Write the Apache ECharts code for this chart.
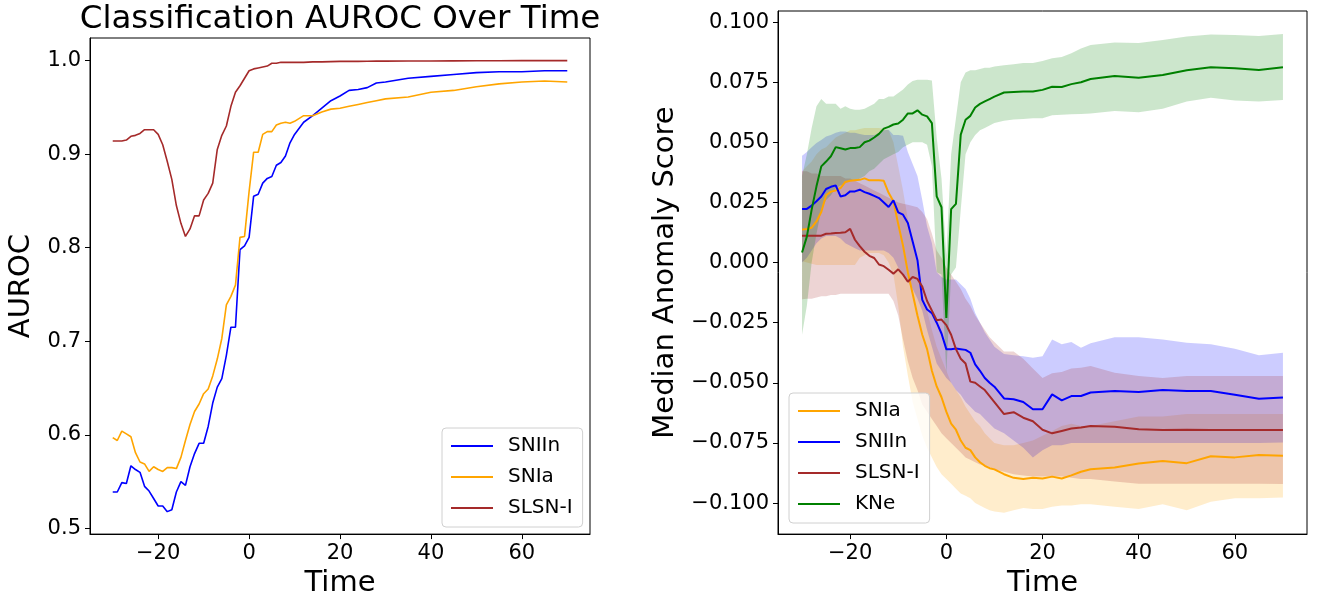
<!DOCTYPE html>
<html>
<head>
<meta charset="utf-8">
<title>AUROC and anomaly score over time</title>
<script src="https://cdn.jsdelivr.net/npm/echarts@6/dist/echarts.min.js"></script>
<style>
  html, body { margin: 0; padding: 0; background: #fff; }
  #chart { width: 1319px; height: 603px; }
</style>
</head>
<body>
<div id="chart"></div>
<script>
// time grid shared by both panels
var times = [-30,-29,-28,-27,-26,-25,-24,-23,-22,-21,
             -20,-19,-18,-17,-16,-15,-14,-13,-12,-11,
             -10,-9,-8,-7,-6,-5,-4,-3,-2,-1,
             0,1,2,3,4,5,6,7,8,9,10,
             12,14,16,18,20,22,24,26,28,30,
             35,40,45,50,55,60,65,70];

// left panel: AUROC
var aurocSNIIn = [0.539,0.539,0.549,0.548,0.567,0.563,0.560,0.545,0.540,0.532,
                  0.524,0.524,0.518,0.520,0.539,0.550,0.546,0.566,0.580,0.591,
                  0.591,0.609,0.634,0.651,0.660,0.685,0.715,0.715,0.798,0.802,
                  0.811,0.855,0.857,0.869,0.874,0.876,0.888,0.891,0.898,0.912,0.921,
                  0.934,0.941,0.949,0.957,0.962,0.968,0.969,0.971,0.976,0.977,
                  0.981,0.983,0.985,0.987,0.988,0.988,0.989,0.989];
var aurocSNIa = [0.597,0.594,0.604,0.601,0.598,0.581,0.571,0.569,0.561,0.566,
                 0.563,0.561,0.565,0.565,0.564,0.576,0.594,0.611,0.625,0.633,
                 0.644,0.649,0.663,0.681,0.703,0.739,0.748,0.760,0.811,0.812,
                 0.860,0.902,0.902,0.921,0.924,0.924,0.931,0.933,0.934,0.933,0.935,
                 0.941,0.941,0.945,0.948,0.949,0.951,0.953,0.955,0.957,0.959,
                 0.961,0.966,0.968,0.972,0.975,0.977,0.978,0.977];
var aurocSLSN = [0.914,0.914,0.914,0.915,0.919,0.920,0.922,0.926,0.926,0.926,
                 0.921,0.910,0.892,0.873,0.845,0.826,0.812,0.820,0.834,0.834,
                 0.851,0.858,0.869,0.905,0.920,0.930,0.951,0.966,0.973,0.981,
                 0.989,0.991,0.992,0.993,0.994,0.997,0.997,0.998,0.998,0.998,0.998,
                 0.998,0.9985,0.9985,0.9988,0.999,0.999,0.999,0.9992,0.9993,0.9993,
                 0.9995,0.9995,0.9996,0.9997,0.9997,0.9998,0.9998,0.9998];

// right panel: median anomaly score with upper / lower bands
var snIaMed = [0.0137,0.0140,0.0145,0.0171,0.0210,0.0280,0.0295,0.0300,0.0310,0.0335,
               0.0340,0.0342,0.0344,0.0350,0.0342,0.0342,0.0342,0.0340,0.0290,0.0255,
               0.0160,0.0070,-0.0040,-0.0130,-0.0220,-0.0300,-0.0360,-0.0450,-0.0515,-0.0560,
               -0.0620,-0.0670,-0.0695,-0.0740,-0.0770,-0.0780,-0.0810,-0.0830,-0.0845,-0.0855,-0.0860,
               -0.0880,-0.0895,-0.0900,-0.0895,-0.0898,-0.0890,-0.0898,-0.0885,-0.0870,-0.0859,
               -0.0852,-0.0835,-0.0825,-0.0834,-0.0805,-0.0810,-0.0800,-0.0803];
var snIaHi = [0.038,0.040,0.042,0.045,0.047,0.048,0.050,0.052,0.053,0.054,
              0.055,0.055,0.0555,0.056,0.056,0.056,0.056,0.0555,0.055,0.050,
              0.040,0.030,0.018,0.008,-0.002,-0.012,-0.020,-0.028,-0.035,-0.040,
              -0.045,-0.050,-0.053,-0.056,-0.060,-0.063,-0.066,-0.068,-0.071,-0.073,-0.075,
              -0.076,-0.076,-0.075,-0.074,-0.072,-0.070,-0.068,-0.067,-0.068,-0.068,
              -0.066,-0.064,-0.064,-0.063,-0.063,-0.063,-0.063,-0.063];
var snIaLo = [0.0005,0.000,-0.0005,-0.001,-0.001,-0.001,-0.001,-0.001,-0.001,-0.001,
              -0.001,-0.001,0.002,0.003,0.004,0.004,0.004,0.003,0.000,-0.005,
              -0.018,-0.035,-0.047,-0.058,-0.065,-0.072,-0.077,-0.081,-0.085,-0.088,
              -0.090,-0.092,-0.094,-0.096,-0.097,-0.098,-0.100,-0.101,-0.102,-0.103,-0.1035,
              -0.104,-0.103,-0.102,-0.1025,-0.1025,-0.1015,-0.101,-0.101,-0.1005,-0.1005,
              -0.1015,-0.1025,-0.1005,-0.103,-0.0995,-0.098,-0.098,-0.0977];

var snIInMed = [0.0223,0.0223,0.0237,0.0255,0.0275,0.0306,0.0315,0.0321,0.0275,0.0280,
                0.0296,0.0296,0.0303,0.0293,0.0286,0.0277,0.0268,0.0250,0.0231,0.0259,
                0.0209,0.0199,0.0165,0.0088,0.0010,-0.0155,-0.0195,-0.0210,-0.0250,-0.0295,
                -0.0360,-0.0360,-0.0357,-0.0360,-0.0363,-0.0375,-0.0423,-0.0450,-0.0480,-0.0500,-0.0516,
                -0.0565,-0.0568,-0.0580,-0.0610,-0.0610,-0.0548,-0.0573,-0.0555,-0.0555,-0.0540,
                -0.0534,-0.0538,-0.0530,-0.0534,-0.0534,-0.0550,-0.0566,-0.0561];
var snIInHi = [0.0444,0.046,0.048,0.0497,0.051,0.0524,0.053,0.054,0.0545,0.0545,
               0.054,0.054,0.0535,0.053,0.053,0.053,0.054,0.055,0.0552,0.053,
               0.053,0.0527,0.046,0.041,0.036,0.026,0.015,0.008,-0.004,-0.006,
               -0.007,-0.007,-0.007,-0.009,-0.011,-0.015,-0.021,-0.025,-0.029,-0.032,-0.035,
               -0.038,-0.0385,-0.039,-0.0396,-0.039,-0.032,-0.034,-0.033,-0.0354,-0.0335,
               -0.031,-0.031,-0.032,-0.0333,-0.034,-0.0358,-0.0385,-0.0375];
var snIInLo = [0.000,0.002,0.005,0.008,0.010,0.011,0.011,0.011,0.010,0.008,
               0.007,0.006,0.005,0.005,0.005,0.005,0.005,0.005,0.004,0.002,
               -0.002,-0.005,-0.008,-0.011,-0.015,-0.020,-0.028,-0.035,-0.042,-0.045,
               -0.048,-0.050,-0.053,-0.055,-0.058,-0.060,-0.062,-0.063,-0.065,-0.067,-0.069,
               -0.071,-0.074,-0.077,-0.081,-0.078,-0.076,-0.076,-0.075,-0.075,-0.075,
               -0.075,-0.075,-0.075,-0.075,-0.075,-0.075,-0.075,-0.0748];

var slsnMed = [0.0112,0.0112,0.0112,0.0112,0.0112,0.0120,0.0121,0.0123,0.0124,0.0126,
               0.0140,0.0095,0.0068,0.0045,0.0028,0.0019,-0.0008,-0.0015,-0.0030,-0.0046,
               -0.0028,-0.0050,-0.0080,-0.0060,-0.0068,-0.0100,-0.0160,-0.0200,-0.0240,-0.0237,
               -0.0260,-0.0300,-0.0360,-0.0400,-0.0420,-0.0495,-0.0500,-0.0515,-0.0530,-0.0555,-0.0580,
               -0.0630,-0.0622,-0.0645,-0.0660,-0.0695,-0.0710,-0.0700,-0.0690,-0.0686,-0.0680,
               -0.0683,-0.0693,-0.0696,-0.0695,-0.0696,-0.0696,-0.0696,-0.0696];
var slsnHi = [0.038,0.038,0.037,0.037,0.036,0.036,0.036,0.036,0.036,0.035,
              0.035,0.034,0.033,0.032,0.031,0.030,0.029,0.028,0.027,0.026,
              0.025,0.0245,0.024,0.0235,0.023,0.021,0.018,0.012,0.005,0.002,
              -0.002,-0.005,-0.008,-0.011,-0.015,-0.018,-0.022,-0.025,-0.028,-0.031,-0.033,
              -0.037,-0.037,-0.040,-0.044,-0.048,-0.046,-0.0455,-0.044,-0.0437,-0.043,
              -0.0458,-0.0472,-0.048,-0.0472,-0.0472,-0.0472,-0.0472,-0.0472];
var slsnLo = [-0.0153,-0.015,-0.015,-0.0145,-0.014,-0.014,-0.0135,-0.0135,-0.013,-0.013,
              -0.013,-0.013,-0.013,-0.013,-0.013,-0.013,-0.013,-0.013,-0.013,-0.016,
              -0.022,-0.032,-0.041,-0.048,-0.053,-0.059,-0.062,-0.065,-0.068,-0.071,
              -0.073,-0.075,-0.077,-0.079,-0.081,-0.082,-0.083,-0.084,-0.0845,-0.085,-0.086,
              -0.087,-0.088,-0.0885,-0.089,-0.089,-0.089,-0.089,-0.0895,-0.090,-0.090,
              -0.091,-0.092,-0.092,-0.092,-0.092,-0.092,-0.092,-0.0921];

var kneMed = [0.0042,0.0108,0.0220,0.0317,0.0400,0.0420,0.0442,0.0480,0.0475,0.0470,
              0.0476,0.0476,0.0480,0.0500,0.0507,0.0520,0.0535,0.0557,0.0564,0.0574,
              0.0578,0.0594,0.0620,0.0620,0.0633,0.0615,0.0608,0.0580,0.0275,0.0230,
              -0.0230,0.0222,0.0244,0.0532,0.0594,0.0610,0.0645,0.0660,0.0670,0.0680,0.0690,
              0.0707,0.0709,0.0711,0.0711,0.0718,0.0731,0.0730,0.0742,0.0750,0.0763,
              0.0776,0.0768,0.0780,0.0800,0.0812,0.0808,0.0801,0.0812];
var kneHi = [0.036,0.045,0.056,0.065,0.068,0.066,0.066,0.066,0.064,0.065,
             0.064,0.0635,0.0635,0.064,0.065,0.066,0.068,0.068,0.069,0.069,
             0.0705,0.072,0.074,0.0755,0.076,0.076,0.076,0.0757,0.052,0.035,
             0.003,0.045,0.060,0.075,0.079,0.080,0.080,0.0805,0.081,0.081,0.0815,
             0.082,0.0825,0.083,0.083,0.0838,0.085,0.0855,0.087,0.089,0.0905,
             0.0915,0.0913,0.0925,0.094,0.0948,0.0946,0.0942,0.095];
var kneLo = [-0.030,-0.018,0.000,0.012,0.022,0.026,0.028,0.031,0.032,0.033,
             0.034,0.034,0.035,0.036,0.038,0.039,0.041,0.043,0.044,0.045,
             0.046,0.048,0.049,0.050,0.050,0.050,0.049,0.040,-0.004,-0.005,
             -0.046,-0.005,-0.002,0.022,0.045,0.050,0.053,0.055,0.056,0.057,0.058,
             0.059,0.0595,0.0597,0.060,0.060,0.0613,0.0615,0.0617,0.0618,0.062,
             0.063,0.0625,0.064,0.067,0.0685,0.0674,0.067,0.0676];

var xTicks = [-20, 0, 20, 40, 60];
var aurocTicks = [0.5, 0.6, 0.7, 0.8, 0.9, 1.0];
var scoreTicks = [-0.1, -0.075, -0.05, -0.025, 0, 0.025, 0.05, 0.075, 0.1];

var FONT = 'DejaVu Sans';
var C_BLUE = '#0000ff', C_ORANGE = '#ffa500', C_BROWN = '#a52a2a', C_GREEN = '#008000';

function minus(s) { return String(s).replace('-', '\u2212'); }

function pairs(ys) {
  return times.map(function (t, i) { return [t, ys[i]]; });
}

function line(name, ys, color, width, ax) {
  return {
    type: 'line', name: name, data: pairs(ys),
    xAxisIndex: ax, yAxisIndex: ax,
    symbol: 'none', showSymbol: false,
    lineStyle: { color: color, width: width },
    itemStyle: { color: color },
    silent: true, z: 3
  };
}

function band(hi, lo, fill) {
  return {
    type: 'custom', xAxisIndex: 1, yAxisIndex: 1,
    data: [[times[0], hi[0]]], clip: true, silent: true, z: 1,
    renderItem: function (params, api) {
      var pts = [];
      for (var i = 0; i < times.length; i++) pts.push(api.coord([times[i], hi[i]]));
      for (var j = times.length - 1; j >= 0; j--) pts.push(api.coord([times[j], lo[j]]));
      return { type: 'polygon', shape: { points: pts }, style: { fill: fill } };
    }
  };
}

var axisLine = { show: true, onZero: false, lineStyle: { color: '#000', width: 1 } };

function xAxis(idx) {
  return {
    type: 'value', gridIndex: idx, min: -35, max: 75, position: 'bottom',
    name: 'Time', nameLocation: 'middle', nameGap: 34,
    nameTextStyle: { fontSize: 29, fontFamily: FONT, color: '#000' },
    axisLine: axisLine,
    axisTick: { show: true, length: 5, customValues: xTicks, lineStyle: { color: '#000' } },
    axisLabel: { customValues: xTicks, margin: 9, fontSize: 21, fontFamily: FONT, color: '#000',
                 formatter: function (v) { return minus(v); } },
    splitLine: { show: false }
  };
}

function legend(names, left, top) {
  return {
    data: names, left: left, top: top, orient: 'vertical',
    selectedMode: false, icon: 'rect',
    itemWidth: 42, itemHeight: 2, itemGap: 11,
    padding: [8, 10, 9, 9],
    backgroundColor: 'rgba(255,255,255,0.8)',
    borderColor: '#d0d0d0', borderWidth: 1, borderRadius: 4,
    textStyle: { fontSize: 20, fontFamily: FONT, color: '#000', lineHeight: 20, padding: [0, 0, 0, 10] }
  };
}

var chart = echarts.init(document.getElementById('chart'), null, { renderer: 'canvas' });

chart.setOption({
  animation: false,
  backgroundColor: '#fff',
  title: {
    text: 'Classification AUROC Over Time',
    left: 340, top: 3, textAlign: 'center', padding: 0,
    textStyle: { fontSize: 32.5, fontWeight: 'normal', fontFamily: FONT, color: '#000' }
  },
  grid: [
    { left: 90, top: 38, width: 500, height: 497, show: true, borderColor: '#000', borderWidth: 1, backgroundColor: 'transparent' },
    { left: 778, top: 11, width: 529, height: 524, show: true, borderColor: '#000', borderWidth: 1, backgroundColor: 'transparent' }
  ],
  xAxis: [xAxis(0), xAxis(1)],
  yAxis: [
    {
      type: 'value', gridIndex: 0, min: 0.494, max: 1.024, position: 'left',
      name: 'AUROC', nameLocation: 'middle', nameGap: 54,
      nameTextStyle: { fontSize: 29, fontFamily: FONT, color: '#000' },
      axisLine: axisLine,
      axisTick: { show: true, length: 5, customValues: aurocTicks, lineStyle: { color: '#000' } },
      axisLabel: { customValues: aurocTicks, margin: 9, fontSize: 21, fontFamily: FONT, color: '#000',
                   formatter: function (v) { return v.toFixed(1); } },
      splitLine: { show: false }
    },
    {
      type: 'value', gridIndex: 1, min: -0.1129, max: 0.1046, position: 'left',
      name: 'Median Anomaly Score', nameLocation: 'middle', nameGap: 98,
      nameTextStyle: { fontSize: 29, fontFamily: FONT, color: '#000' },
      axisLine: axisLine,
      axisTick: { show: true, length: 5, customValues: scoreTicks, lineStyle: { color: '#000' } },
      axisLabel: { customValues: scoreTicks, margin: 9, fontSize: 21, fontFamily: FONT, color: '#000',
                   formatter: function (v) { return minus(v.toFixed(3)); } },
      splitLine: { show: false }
    }
  ],
  legend: [
    legend(['SNIIn', 'SNIa', 'SLSN-I'], 442, 428),
    legend(['SNIa', 'SNIIn', 'SLSN-I', 'KNe'], 789, 393)
  ],
  series: [
    line('SNIIn', aurocSNIIn, C_BLUE, 1.6, 0),
    line('SNIa', aurocSNIa, C_ORANGE, 1.6, 0),
    line('SLSN-I', aurocSLSN, C_BROWN, 1.6, 0),

    band(snIaHi, snIaLo, 'rgba(255,165,0,0.2)'),
    band(snIInHi, snIInLo, 'rgba(0,0,255,0.2)'),
    band(slsnHi, slsnLo, 'rgba(165,42,42,0.2)'),
    band(kneHi, kneLo, 'rgba(0,128,0,0.2)'),

    line('SNIa', snIaMed, C_ORANGE, 2, 1),
    line('SNIIn', snIInMed, C_BLUE, 2, 1),
    line('SLSN-I', slsnMed, C_BROWN, 2, 1),
    line('KNe', kneMed, C_GREEN, 2, 1)
  ]
});
</script>
</body>
</html>
